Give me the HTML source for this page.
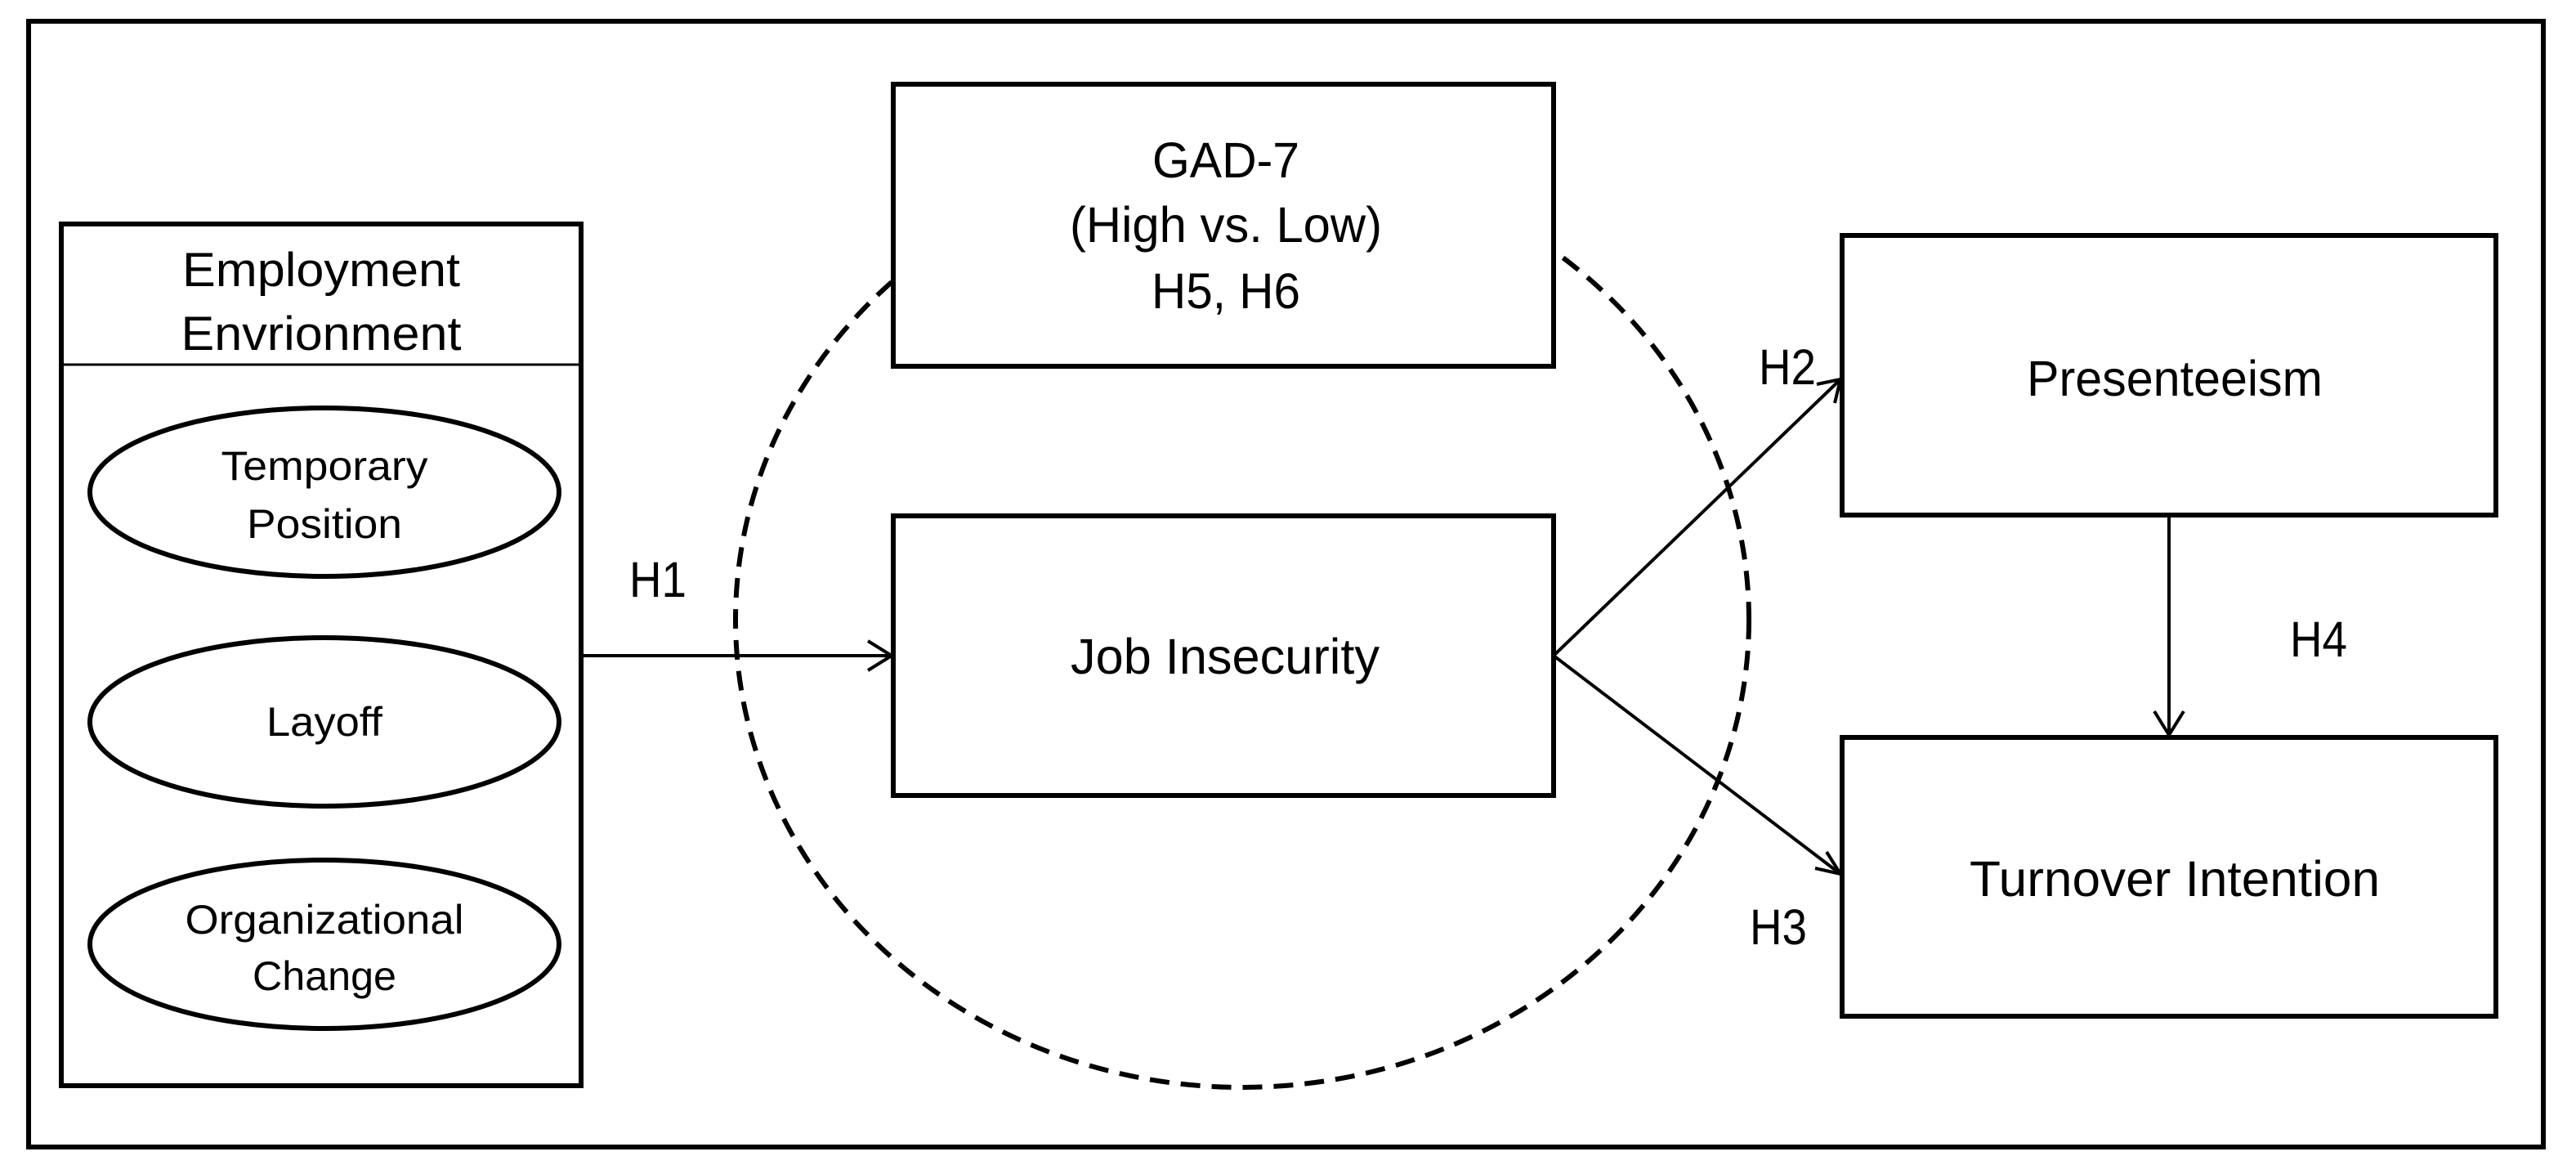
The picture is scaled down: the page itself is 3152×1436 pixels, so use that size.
<!DOCTYPE html>
<html><head><meta charset="utf-8"><style>html,body{margin:0;padding:0;background:#fff}svg{display:block}</style></head>
<body>
<svg width="3152" height="1436" viewBox="0 0 3152 1436" xmlns="http://www.w3.org/2000/svg" font-family="'Liberation Sans', sans-serif" fill="#000">
<rect x="35" y="26" width="3077" height="1377" fill="#fff" stroke="#000" stroke-width="6"/>
<ellipse cx="1520" cy="758" rx="620" ry="572" fill="none" stroke="#000" stroke-width="6" stroke-dasharray="24 14"/>
<!-- Employment box -->
<rect x="75" y="274" width="636" height="1054" fill="#fff" stroke="#000" stroke-width="6"/>
<line x1="75" y1="446" x2="711" y2="446" stroke="#000" stroke-width="3"/>
<g font-size="58" text-anchor="middle">
<text x="393" y="350" textLength="340" lengthAdjust="spacingAndGlyphs">Employment</text>
<text x="393" y="428" textLength="343" lengthAdjust="spacingAndGlyphs">Envrionment</text>
</g>
<g fill="#fff" stroke="#000" stroke-width="6">
<ellipse cx="397" cy="602" rx="287" ry="103"/>
<ellipse cx="397" cy="883" rx="287" ry="103"/>
<ellipse cx="397" cy="1155" rx="287" ry="103"/>
</g>
<g font-size="50" text-anchor="middle">
<text x="397" y="587" textLength="253" lengthAdjust="spacingAndGlyphs">Temporary</text>
<text x="397" y="658" textLength="190" lengthAdjust="spacingAndGlyphs">Position</text>
<text x="397" y="900" textLength="142" lengthAdjust="spacingAndGlyphs">Layoff</text>
<text x="397" y="1142" textLength="341" lengthAdjust="spacingAndGlyphs">Organizational</text>
<text x="397" y="1211" textLength="176" lengthAdjust="spacingAndGlyphs">Change</text>
</g>
<!-- boxes -->
<g fill="#fff" stroke="#000" stroke-width="6">
<rect x="1093" y="103" width="808" height="345"/>
<rect x="1093" y="631" width="808" height="342"/>
<rect x="2254" y="288" width="800" height="342"/>
<rect x="2254" y="902" width="800" height="341"/>
</g>
<g font-size="61" text-anchor="middle">
<text x="1500" y="217" textLength="180" lengthAdjust="spacingAndGlyphs">GAD-7</text>
<text x="1500" y="296" textLength="382" lengthAdjust="spacingAndGlyphs">(High vs. Low)</text>
<text x="1500" y="377" textLength="182" lengthAdjust="spacingAndGlyphs">H5, H6</text>
<text x="1499" y="824" textLength="378" lengthAdjust="spacingAndGlyphs">Job Insecurity</text>
<text x="2661" y="484" textLength="362" lengthAdjust="spacingAndGlyphs">Presenteeism</text>
<text x="2661" y="1096" textLength="502" lengthAdjust="spacingAndGlyphs">Turnover Intention</text>
<text x="805" y="730" textLength="70" lengthAdjust="spacingAndGlyphs">H1</text>
<text x="2187" y="470" textLength="70" lengthAdjust="spacingAndGlyphs">H2</text>
<text x="2176" y="1155" textLength="70" lengthAdjust="spacingAndGlyphs">H3</text>
<text x="2837" y="803" textLength="70" lengthAdjust="spacingAndGlyphs">H4</text>
</g>
<!-- connectors -->
<g stroke="#000" stroke-width="4" fill="none">
<line x1="711" y1="802" x2="1090" y2="802"/>
<polyline points="1062,784 1091,802 1062,820"/>
<line x1="1901" y1="802" x2="2252" y2="464"/>
<polyline points="2223,470 2252,464 2245,493"/>
<line x1="1901" y1="802" x2="2252" y2="1069"/>
<polyline points="2235,1042 2252,1069 2221,1062"/>
<line x1="2654" y1="630" x2="2654" y2="899"/>
<polyline points="2636,870 2654,899 2672,870"/>
</g>
</svg>
</body></html>
